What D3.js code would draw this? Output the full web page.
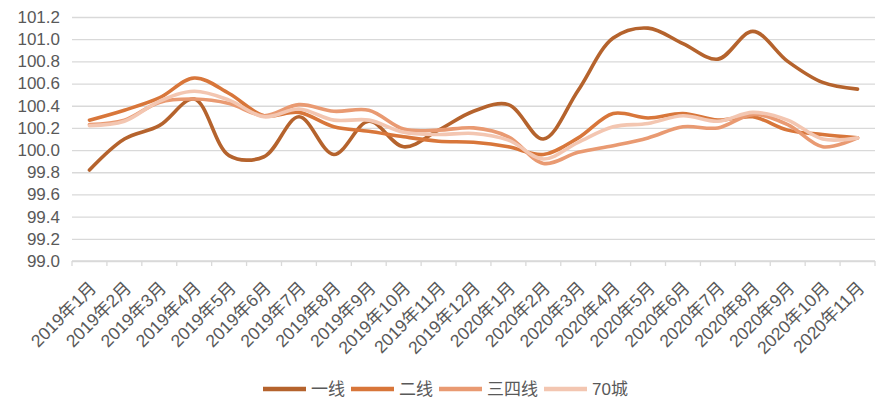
<!DOCTYPE html>
<html>
<head>
<meta charset="utf-8">
<script src="https://cdn.jsdelivr.net/npm/d3@7/dist/d3.min.js"></script>
<style>
  body { margin: 0; background: #fff; }
  svg text { font-family: "Liberation Sans", Arial, "Noto Sans CJK SC", sans-serif; fill: #595959; }
</style>
</head>
<body>
<svg width="890" height="408"></svg>
<script>
// data
var months = ["2019年1月","2019年2月","2019年3月","2019年4月","2019年5月","2019年6月","2019年7月","2019年8月",
  "2019年9月","2019年10月","2019年11月","2019年12月","2020年1月","2020年2月","2020年3月","2020年4月",
  "2020年5月","2020年6月","2020年7月","2020年8月","2020年9月","2020年10月","2020年11月"]

var seriesNames = ["一线","二线","三四线","70城"]
var seriesColors = ["#b5632d","#d8763a","#e99a72","#f3c6b1"]

var tier1 = [99.82,100.10,100.22,100.46,99.95,99.94,100.30,99.96,100.26,100.03,100.18,100.35,
  100.41,100.10,100.54,101.01,101.10,100.96,100.82,101.07,100.80,100.61,100.55]
var tier2 = [100.27,100.36,100.47,100.65,100.51,100.31,100.34,100.21,100.17,100.12,100.08,100.07,
  100.03,99.96,100.11,100.33,100.29,100.33,100.27,100.30,100.18,100.14,100.11]
var tier34 = [100.23,100.27,100.43,100.46,100.42,100.31,100.41,100.35,100.36,100.19,100.18,100.20,
  100.12,99.88,99.98,100.04,100.11,100.21,100.20,100.32,100.23,100.03,100.11]
var city70 = [100.22,100.26,100.44,100.53,100.45,100.30,100.37,100.27,100.27,100.16,100.14,100.15,
  100.09,99.92,100.07,100.21,100.24,100.31,100.26,100.34,100.27,100.10,100.11]

var yTicks = [99.0,99.2,99.4,99.6,99.8,100.0,100.2,100.4,100.6,100.8,101.0,101.2]

var svg = d3.select("svg")
var plotLeft = 72, plotRight = 875, plotTop = 17, plotBottom = 261

var x = d3.scaleBand().domain(months).range([plotLeft, plotRight]).padding(0)
var y = d3.scaleLinear().domain([99.0, 101.2]).range([plotBottom, plotTop])

// gridlines + y labels
var yAxis = svg.append("g")
  .attr("transform", `translate(${plotLeft},0)`)
  .call(d3.axisLeft(y).tickValues(yTicks).tickFormat(d3.format(".1f")).tickSize(-(plotRight - plotLeft)).tickPadding(12))
yAxis.select(".domain").remove()
yAxis.selectAll(".tick line").attr("stroke", "#d9d9d9").attr("stroke-width", 1.3)
yAxis.selectAll(".tick text").style("font-size", "17px").attr("fill", "#595959")

// category axis: line, ticks between categories
svg.append("line")
  .attr("x1", plotLeft).attr("x2", plotRight).attr("y1", y(99.0)).attr("y2", y(99.0))
  .attr("stroke", "#d9d9d9").attr("stroke-width", 1.3)

var edges = months.map(m => x(m)).concat([plotRight])
svg.selectAll(".xtick").data(edges).enter().append("line")
  .attr("class", "xtick")
  .attr("x1", d => d).attr("x2", d => d)
  .attr("y1", y(99.0)).attr("y2", y(99.0) + 5)
  .attr("stroke", "#d9d9d9").attr("stroke-width", 1.3)

svg.selectAll(".xlabel").data(months).enter().append("text")
  .attr("class", "xlabel")
  .attr("text-anchor", "end")
  .style("font-size", "17.5px")
  .attr("transform", d => `translate(${x(d) + x.bandwidth() / 2 + 8},${plotBottom + 28}) rotate(-45)`)
  .text(d => d)

// lines
var allSeries = [tier1, tier2, tier34, city70]
var line = d3.line()
  .x((d, i) => x(months[i]) + x.bandwidth() / 2)
  .y(d => y(d))
  .curve(d3.curveCatmullRom.alpha(0.5))

allSeries.forEach(function(s, k) {
  svg.append("path")
    .datum(s)
    .attr("d", line)
    .attr("fill", "none")
    .attr("stroke", seriesColors[k])
    .attr("stroke-width", 3.6)
    .attr("stroke-linecap", "round")
    .attr("stroke-linejoin", "round")
})

// legend
var legend = svg.append("g")
var lx = 0
seriesNames.forEach(function(n, k) {
  var g = legend.append("g").attr("transform", `translate(${lx},0)`)
  g.append("line")
    .attr("x1", 0).attr("x2", 43).attr("y1", 0).attr("y2", 0)
    .attr("stroke", seriesColors[k]).attr("stroke-width", 4.5)
  var t = g.append("text")
    .attr("x", 48).attr("y", 6)
    .style("font-size", "17px")
    .text(n)
  lx += 48 + t.node().getComputedTextLength() + 6
})
legend.attr("transform", `translate(263,389)`)
</script>
</body>
</html>
